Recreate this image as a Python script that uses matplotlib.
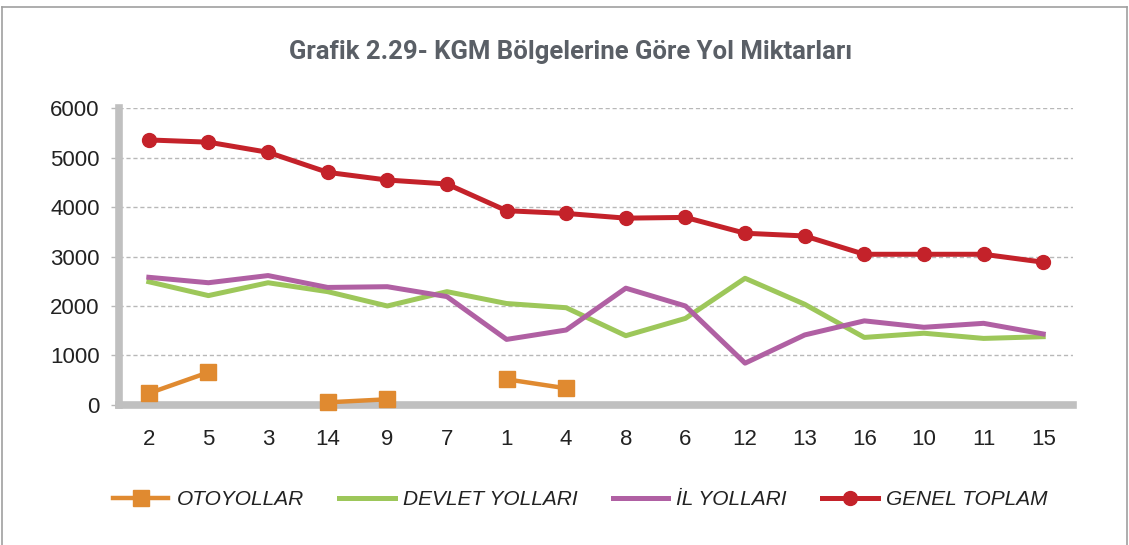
import matplotlib.pyplot as plt
import matplotlib.lines as mlines
import numpy as np

# KGM region numbers in display order
regions = ['2', '5', '3', '14', '9', '7', '1', '4', '8', '6', '12', '13', '16', '10', '11', '15']

nan = np.nan
otoyollar = [236, 660, nan, 54, 115, nan, 519, 337, nan, nan, nan, nan, nan, nan, nan, nan]
devlet_yollari = [2490, 2210, 2470, 2290, 2000, 2290, 2050, 1965, 1400, 1750, 2560, 2035, 1365, 1450, 1345, 1380]
il_yollari = [2580, 2470, 2615, 2375, 2390, 2190, 1325, 1515, 2360, 2000, 845, 1415, 1700, 1570, 1650, 1435]
genel_toplam = [5355, 5310, 5105, 4700, 4545, 4465, 3925, 3870, 3775, 3790, 3470, 3415, 3045, 3045, 3045, 2885]

plt.rcParams['font.family'] = ['Liberation Sans', 'DejaVu Sans']

fig = plt.figure(figsize=(11.29, 5.45), dpi=100)
ax = fig.add_axes([0.1054, 0.2569, 0.845, 0.5449])

x = np.arange(len(regions))
ax.plot(x, otoyollar, color='#e08a30', lw=3.2, marker='s', ms=11, label='OTOYOLLAR', clip_on=False, zorder=3)
ax.plot(x, devlet_yollari, color='#9dc75a', lw=3.6, label='DEVLET YOLLARI')
ax.plot(x, il_yollari, color='#b060a3', lw=3.6, label='İL YOLLARI')
ax.plot(x, genel_toplam, color='#c4222a', lw=3.6, marker='o', ms=10, label='GENEL TOPLAM')

ax.set_xlim(-0.5, len(regions) - 0.5)
ax.set_ylim(0, 6000)
ax.set_yticks(range(0, 6001, 1000))
ax.set_xticks(x)
ax.set_xticklabels(regions)

ax.yaxis.grid(True, color='#b8b8b8', ls=(0, (3, 2)), lw=1)
ax.set_axisbelow(True)
for s in ['top', 'right']:
    ax.spines[s].set_visible(False)
for s in ['left', 'bottom']:
    ax.spines[s].set_color('#c0c0c0')
    ax.spines[s].set_linewidth(5.5)
ax.tick_params(axis='x', length=0, pad=17, labelsize=16, labelcolor='#222222')
ax.tick_params(axis='y', length=6, width=1, color='#b8b8b8', pad=8, labelsize=16, labelcolor='#222222')

fig.text(0.505, 0.905, 'Grafik 2.29- KGM Bölgelerine Göre Yol Miktarları',
         ha='center', va='center', fontsize=18.5, fontweight='bold',
         family=['Roboto', 'DejaVu Sans'], color='#5a5f66')

fig.legend(loc='center', bbox_to_anchor=(0.514, 0.083), ncol=4, frameon=False,
           prop={'style': 'italic', 'size': 15}, handlelength=2.65,
           handletextpad=0.4, columnspacing=1.7, labelcolor='#222222')

# thin frame around the picture
for xs, ys in [([0.002, 0.998], [0.988, 0.988]), ([0.002, 0.002], [0, 0.988]),
               ([0.998, 0.998], [0, 0.988])]:
    fig.add_artist(mlines.Line2D(xs, ys, color='#a0a0a0', lw=1.2, transform=fig.transFigure))

fig.savefig('out.png', dpi=100)
